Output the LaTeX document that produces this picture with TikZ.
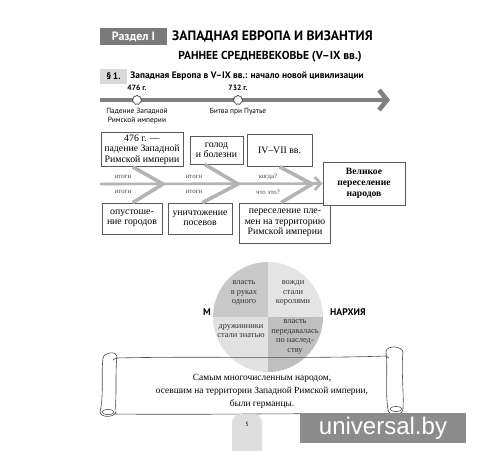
\documentclass[tikz,border=0pt]{standalone}
\usepackage{fontspec}
\setmainfont{Liberation Serif}
\newfontfamily\headfont{PT Sans}
\newfontfamily\wmfont{Liberation Sans}
\usetikzlibrary{arrows.meta,positioning,shapes.geometric}
\definecolor{tabgray}{HTML}{7A7A7A}
\definecolor{linegray}{HTML}{808080}
\definecolor{bonegray}{HTML}{B4B4B4}
\definecolor{qdark}{HTML}{C9C9C9}
\definecolor{qlight}{HTML}{E4E4E4}

\begin{document}
\begin{tikzpicture}[x=1pt,y=-1pt,
 head/.style={font=\headfont\bfseries\fontsize{#1}{#1}\selectfont,inner sep=0pt},
 box/.style={draw=black!65,fill=white,line width=0.7pt,align=center,
 font=\fontsize{9.8}{10.4}\selectfont,inner sep=1pt},
 bone/.style={line width=3.6pt,draw=bonegray},
 boneword/.style={font=\fontsize{6.8}{7}\selectfont,text=black!70,inner sep=0pt},
 sunmark/.style={star,star points=9,star point ratio=1.35,minimum size=10pt,
 inner sep=0pt,draw=black!70,fill=white,line width=0.7pt,rounded corners=0.6pt},
 tlabel/.style={font=\headfont\fontsize{7.4}{8.6}\selectfont,align=center,inner sep=0pt},
 quad/.style={font=\fontsize{8.4}{9.4}\selectfont,align=center,text=black!80,inner sep=0pt},
 scroll/.style={draw=black!70,line width=0.6pt,line cap=round}]
\useasboundingbox (0,0) rectangle (500,450);
\fill[white] (0,0) rectangle (500,450);

% heading
\node[head=12,fill=tabgray,text=white,minimum width=67pt,minimum height=17pt] (tab) at (133.5,36.5) {Раздел I};
\node[head=13.6,anchor=west] (title) at (172,36.5) {ЗАПАДНАЯ ЕВРОПА И ВИЗАНТИЯ};
\node[head=11.6] (era) at (270,57) {РАННЕЕ СРЕДНЕВЕКОВЬЕ (V–IX вв.)};
\node[head=9.4,fill=black!15,minimum width=27pt,minimum height=15pt] (par) at (113.5,76) {§\,1.};
\node[head=9.4,anchor=west,right=3pt of par] (partitle) {Западная Европа в V–IX вв.: начало новой цивилизации};

% timeline
\coordinate (t0) at (100,100);
\coordinate (t1) at (390,100);
\draw[line width=4.6pt,linegray,-{Straight Barb[length=8pt,width=20pt]}] (t0) -- (t1);
\node[sunmark] (m1) at (137,100) {};
\node[sunmark] (m2) at (238,100) {};
\node[tlabel,font=\headfont\bfseries\fontsize{7.6}{8}\selectfont,above=4pt of m1] {476 г.};
\node[tlabel,font=\headfont\bfseries\fontsize{7.6}{8}\selectfont,above=4pt of m2] {732 г.};
\node[tlabel,below=4pt of m1] {Падение Западной\\Римской империи};
\node[tlabel,below=4pt of m2] {Битва при Пуатье};

% fishbone
\node[box,minimum width=82pt,minimum height=34pt] (fall) at (142,149.5) {476 г. —\\падение Западной\\Римской империи};
\node[box,minimum width=53pt,minimum height=28pt] (hunger) at (216.5,150) {голод\\и болезни};
\node[box,minimum width=65pt,minimum height=32pt] (when) at (279.5,150.5) {IV–VII вв.};
\node[box,minimum width=60pt,minimum height=31pt] (ruin) at (132,218.5) {опустоше-\\ние городов};
\node[box,minimum width=64pt,minimum height=31pt] (crops) at (200,218.5) {уничтожение\\посевов};
\node[box,minimum width=91pt,minimum height=40pt] (move) at (285,223) {переселение пле-\\мен на территорию\\Римской империи};
\node[box,line width=1pt,font=\bfseries\fontsize{9.6}{11}\selectfont,minimum width=82pt,minimum height=43pt] (great) at (364,183.5) {Великое\\переселение\\народов};

\coordinate (s0) at (100,184);
\coordinate (j1) at (163,184);
\coordinate (j2) at (238,184);
\coordinate (j3) at (312,184);
\draw[line width=2.6pt,draw=bonegray,-{Straight Barb[length=6pt,width=13pt]}] (s0) -- (great.west);
\draw[bone] (fall.south west) ++(32,0) -- (j1) -- ([xshift=31pt]ruin.north west);
\draw[bone] (hunger.south west) ++(15,0) -- (j2) -- ([xshift=40pt]ruin.north east);
\draw[bone] (when.south west) ++(33,0) -- (j3) -- ([xshift=42pt]move.north west);

\node[boneword] (w1) at (123,177) {итоги};
\node[boneword] (w2) at (123,192) {итоги};
\node[boneword] (w3) at (194,177) {итоги};
\node[boneword] (w4) at (194,192) {итоги};
\node[boneword] (w5) at (268,177) {когда?};
\node[boneword] (w6) at (268,192) {что это?};

% circle
\coordinate (ctr) at (268,317);
\fill[qdark] (ctr) -- (213,317) arc[start angle=180,end angle=90,radius=55pt] -- cycle;
\fill[qlight] (ctr) -- (268,262) arc[start angle=90,end angle=0,radius=55pt] -- cycle;
\fill[qlight!90!qdark] (ctr) -- (213,317) arc[start angle=180,end angle=270,radius=55pt] -- cycle;
\fill[qdark!95!black] (ctr) -- (323,317) arc[start angle=0,end angle=-90,radius=55pt] -- cycle;
\node[quad] (q1) at (244,293) {власть\\в руках\\одного};
\node[quad] (q2) at (293,293) {вожди\\стали\\королями};
\node[quad] (q3) at (241,331) {дружинники\\стали знатью};
\node[quad] (q4) at (295,337) {власть\\передавалась\\по наслед-\\ству};
\node[head=9.6] (mon1) at (207,312) {М};
\node[head=9.6,anchor=west] (mon2) at (330,312) {НАРХИЯ};

% scroll
\draw[scroll] (116,358) .. controls (200,356) and (300,359) .. (386,356);
\draw[scroll] (114,414) .. controls (200,415) and (300,413) .. (388,414);
\draw[scroll] (103,358) .. controls (101,375) and (104,395) .. (100,412);
\draw[scroll] (117,356) .. controls (115,375) and (117,395) .. (115,410);
\draw[scroll] (103,358) .. controls (104,352) and (116,351) .. (117,356);
\draw[scroll] (100,412) .. controls (100,418) and (116,418) .. (116,411);
\draw[scroll] (108,412) ellipse[x radius=6pt,y radius=2.5pt];
\draw[scroll] (386,351) .. controls (388,370) and (385,390) .. (388,410);
\draw[scroll] (403,352) .. controls (401,370) and (404,392) .. (403,408);
\draw[scroll] (386,351) .. controls (388,345) and (402,346) .. (403,352);
\draw[scroll] (388,410) .. controls (389,417) and (404,416) .. (403,408);
\draw[scroll] (396,409) ellipse[x radius=6pt,y radius=2.5pt];
\draw[scroll] (116,358) -- (113,360);
\draw[scroll] (386,356) -- (389,358);
\node[align=center,font=\fontsize{9.4}{13}\selectfont] (fact) at (262,391) {Самым многочисленным народом,\\осевшим на территории Западной Римской империи,\\были германцы.};

% page number and mark
\fill[black!13,rounded corners=9pt] (232,414) rectangle (262,462);
\node[font=\headfont\fontsize{6}{6}\selectfont] (pg) at (247,424) {5};
\node[fill=black!45,text=white,font=\wmfont\fontsize{24}{24}\selectfont,minimum width=166pt,minimum height=30pt,inner sep=0pt] (wm) at (383,428) {universal.by};
\end{tikzpicture}
\end{document}
